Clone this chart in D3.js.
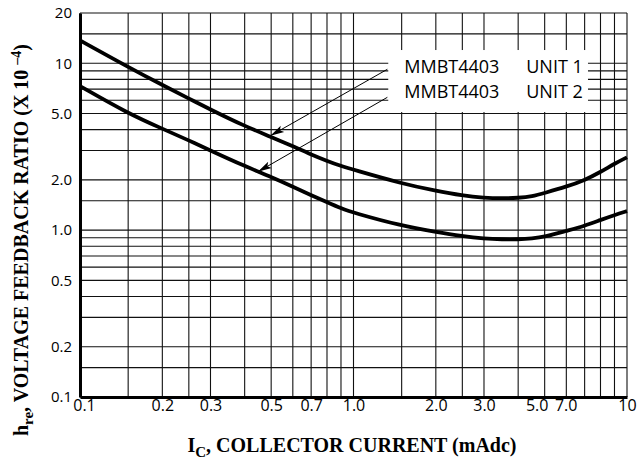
<!DOCTYPE html>
<html>
<head>
<meta charset="utf-8">
<script src="https://cdn.jsdelivr.net/npm/d3@7"></script>
<style>
  body { margin: 0; background: #fff; }
</style>
</head>
<body>
<script>
// values
const current = [0.1, 0.15, 0.2, 0.25, 0.3, 0.4, 0.5, 0.6, 0.7, 0.8, 0.9, 1.0, 1.5, 2.0, 2.5, 3.0, 3.5, 4.0, 4.5, 5.0, 6.0, 7.0, 8.0, 9.0, 10];
const unit1 = [13.7, 9.5, 7.4, 6.15, 5.28, 4.2, 3.62, 3.18, 2.84, 2.6, 2.42, 2.3, 1.9, 1.72, 1.61, 1.56, 1.55, 1.56, 1.59, 1.67, 1.82, 1.99, 2.23, 2.5, 2.73];
const unit2 = [7.3, 5.0, 4.05, 3.45, 3.0, 2.42, 2.08, 1.82, 1.62, 1.47, 1.35, 1.27, 1.06, 0.975, 0.92, 0.89, 0.88, 0.88, 0.89, 0.91, 0.99, 1.06, 1.15, 1.23, 1.3];

const partNames = ["MMBT4403", "MMBT4403"];
const unitNames = ["UNIT 1", "UNIT 2"];

const xTicks = [0.1, 0.2, 0.3, 0.5, 0.7, 1, 2, 3, 5, 7, 10];
const xTickLabels = ["0.1", "0.2", "0.3", "0.5", "0.7", "1.0", "2.0", "3.0", "5.0", "7.0", "10"];
const yTicks = [0.1, 0.2, 0.5, 1, 2, 5, 10, 20];
const yTickLabels = ["0.1", "0.2", "0.5", "1.0", "2.0", "5.0", "10", "20"];

const xGrid = [0.1, 0.15, 0.2, 0.25, 0.3, 0.4, 0.5, 0.6, 0.7, 0.8, 0.9, 1, 1.5, 2, 2.5, 3, 4, 5, 6, 7, 8, 9, 10];
const yGrid = [0.1, 0.15, 0.2, 0.3, 0.4, 0.5, 0.6, 0.7, 0.8, 0.9, 1, 1.5, 2, 3, 4, 5, 6, 7, 8, 9, 10, 15, 20];

// arrows: tip on the curve, tail at the legend
const arrowTipX = [0.5, 0.45];
const arrowTipY = [3.7, 2.25];
const arrowTailX = [1.33, 1.33];
const arrowTailY = [9.2, 6.25];

const svg = d3.select("body")
  .append("svg")
  .attr("width", 641)
  .attr("height", 460);

const x = d3.scaleLog()
  .domain([0.1, 10])
  .range([80, 627]);

const y = d3.scaleLog()
  .domain([0.1, 20])
  .range([397, 13]);

const sans = "'Open Sans', sans-serif";
const serif = "'Liberation Serif', 'Times New Roman', serif";

// grid
svg.append("g")
  .selectAll("line")
  .data(xGrid)
  .join("line")
  .attr("x1", d => x(d))
  .attr("x2", d => x(d))
  .attr("y1", y(0.1))
  .attr("y2", y(20))
  .attr("stroke", "#111")
  .attr("stroke-width", 1.1);

svg.append("g")
  .selectAll("line")
  .data(yGrid)
  .join("line")
  .attr("x1", x(0.1))
  .attr("x2", x(10))
  .attr("y1", d => y(d))
  .attr("y2", d => y(d))
  .attr("stroke", "#111")
  .attr("stroke-width", 1.1);

// legend box knocks out the grid
svg.append("rect")
  .attr("x", x(1.34))
  .attr("y", y(12))
  .attr("width", x(7.2) - x(1.34))
  .attr("height", y(5.1) - y(12))
  .attr("fill", "#fff");

svg.selectAll(".part")
  .data(partNames)
  .join("text")
  .attr("class", "part")
  .attr("x", x(1.34) + 16)
  .attr("y", (d, i) => y(12) + 23 + i * 25)
  .text(d => d)
  .style("font-family", sans)
  .style("font-size", "18px");

svg.selectAll(".unit")
  .data(unitNames)
  .join("text")
  .attr("class", "unit")
  .attr("x", x(1.34) + 138)
  .attr("y", (d, i) => y(12) + 23 + i * 25)
  .text(d => d)
  .style("font-family", sans)
  .style("font-size", "18px");

// axes
const xAxis = svg.append("g")
  .attr("transform", `translate(0,${y(0.1)})`)
  .call(d3.axisBottom(x)
    .tickValues(xTicks)
    .tickFormat((d, i) => xTickLabels[i])
    .tickSize(0)
    .tickPadding(3));

const nudge = { 0.1: 4, 5: -8, 7: -19 }; // labels sit off their lines in the original
xAxis.selectAll(".tick text")
  .attr("dx", d => nudge[d] || 0)
  .style("font-family", sans)
  .style("font-size", "16px")
  .attr("fill", "#000");

const yAxis = svg.append("g")
  .attr("transform", `translate(${x(0.1)},0)`)
  .call(d3.axisLeft(y)
    .tickValues(yTicks)
    .tickFormat((d, i) => yTickLabels[i])
    .tickSize(0)
    .tickPadding(8));

yAxis.selectAll(".tick text")
  .style("font-family", sans)
  .style("font-size", "15px")
  .attr("fill", "#000");

svg.selectAll(".domain")
  .attr("stroke", "#000")
  .attr("stroke-width", 3);

// curves
const line = d3.line()
  .x((d, i) => x(current[i]))
  .y(d => y(d))
  .curve(d3.curveBasis);

svg.selectAll(".curve")
  .data([unit1, unit2])
  .join("path")
  .attr("class", "curve")
  .attr("d", line)
  .attr("fill", "none")
  .attr("stroke", "#000")
  .attr("stroke-width", 3.8);

// arrows
svg.append("defs")
  .append("marker")
  .attr("id", "head")
  .attr("markerUnits", "userSpaceOnUse")
  .attr("viewBox", "0 -5 14 10")
  .attr("refX", 13)
  .attr("refY", 0)
  .attr("markerWidth", 14)
  .attr("markerHeight", 10)
  .attr("orient", "auto")
  .append("path")
  .attr("d", "M0,-3.5L14,0L0,3.5L3,0Z")
  .attr("fill", "#000");

svg.selectAll(".arrow")
  .data(arrowTipX)
  .join("line")
  .attr("class", "arrow")
  .attr("x1", (d, i) => x(arrowTailX[i]))
  .attr("y1", (d, i) => y(arrowTailY[i]))
  .attr("x2", d => x(d))
  .attr("y2", (d, i) => y(arrowTipY[i]))
  .attr("stroke", "#000")
  .attr("stroke-width", 1)
  .attr("marker-end", "url(#head)");

// axis titles
const xTitle = svg.append("text")
  .attr("x", 352)
  .attr("y", 452)
  .attr("text-anchor", "middle")
  .style("font-family", serif)
  .style("font-weight", "bold")
  .style("font-size", "20px");
xTitle.append("tspan").text("I");
xTitle.append("tspan").attr("dy", 5).style("font-size", "15px").text("C");
xTitle.append("tspan").attr("dy", -5).text(", COLLECTOR CURRENT (mAdc)");

const yTitle = svg.append("text")
  .attr("transform", "translate(28,240) rotate(-90)")
  .attr("text-anchor", "middle")
  .style("font-family", serif)
  .style("font-weight", "bold")
  .style("font-size", "20px");
yTitle.append("tspan").text("h");
yTitle.append("tspan").attr("dy", 5).style("font-size", "15px").text("re");
yTitle.append("tspan").attr("dy", -5).text(", VOLTAGE FEEDBACK RATIO (X 10 ");
yTitle.append("tspan").attr("dy", -7).style("font-size", "14px").text("–4");
yTitle.append("tspan").attr("dy", 7).text(")");
</script>
</body>
</html>
